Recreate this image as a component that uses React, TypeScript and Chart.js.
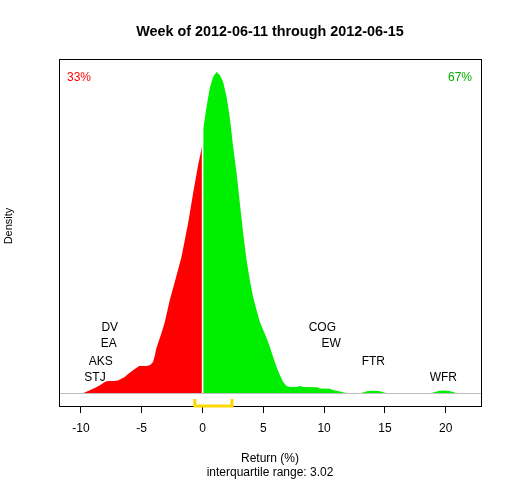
import React, { useEffect, useRef } from 'react';
import { Chart, registerables } from 'chart.js';

Chart.register(...registerables);

const FONT = '"Liberation Sans", Arial, sans-serif';

// density of weekly returns, left of zero (red)
const lossX = [-9.8, -9.4, -8.86, -8.4, -8.04, -7.8, -7.3, -6.95, -6.4, -6.12, -5.9, -5.57, -5.2, -4.6, -4.3, -4.07, -3.93, -3.79, -3.37, -3.1, -2.69, -2.28, -1.73, -1.18, -0.77, -0.36, -0.05];
const lossY = [0, 0.002, 0.005, 0.008, 0.011, 0.012, 0.012, 0.0125, 0.016, 0.019, 0.021, 0.024, 0.027, 0.027, 0.028, 0.031, 0.037, 0.045, 0.06, 0.071, 0.093, 0.111, 0.136, 0.17, 0.2, 0.228, 0.246];

// density right of zero (green)
const gainX = [0.06, 0.33, 0.6, 0.87, 1.15, 1.42, 1.7, 1.98, 2.25, 2.52, 2.8, 3.07, 3.34, 3.62, 3.89, 4.16, 4.44, 4.72, 4.99, 5.27, 5.54, 5.81, 6.09, 6.36, 6.63, 6.91, 7.2, 7.7, 8.0, 8.3, 9.4, 9.65, 10.5, 10.7, 11.3, 11.7, 11.9, 13.0, 13.2, 13.6, 14.0, 14.5, 15.0, 15.2, 18.8, 19.0, 19.4, 19.8, 20.3, 20.8, 21.0];
const gainY = [0.264, 0.286, 0.305, 0.316, 0.321, 0.318, 0.311, 0.296, 0.275, 0.246, 0.22, 0.19, 0.16, 0.133, 0.113, 0.096, 0.083, 0.071, 0.063, 0.055, 0.046, 0.036, 0.026, 0.018, 0.011, 0.007, 0.006, 0.006, 0.007, 0.006, 0.0057, 0.0045, 0.0043, 0.003, 0.0015, 0.0003, 0, 0, 0.0005, 0.002, 0.0023, 0.002, 0.0003, 0, 0, 0.0005, 0.002, 0.0024, 0.002, 0.0003, 0];

// labelled stocks
const stockNames = ['DV', 'EA', 'AKS', 'STJ', 'COG', 'EW', 'FTR', 'WFR'];
const stockX = [-7.63, -7.7, -8.37, -8.84, 9.85, 10.57, 14.05, 19.8];
const stockY = [0.065, 0.049, 0.031, 0.015, 0.065, 0.049, 0.031, 0.015];

const xTicks = [-10, -5, 0, 5, 10, 15, 20];
const quartiles = [-0.63, 2.42];
const iqrText = 'interquartile range: 3.02';
const title = 'Week of 2012-06-11 through 2012-06-15';
const lossShare = '33%';
const gainShare = '67%';

const RED = '#FF0000';
const GREEN = '#00EE00';

const toPoints = (xs: number[], ys: number[]) => xs.map((x, i) => ({ x, y: ys[i] }));

const decorations = {
  id: 'decorations',
  afterDatasetsDraw(chart: any) {
    const { ctx, chartArea, scales } = chart;
    const y = scales.y;
    ctx.save();
    // zero line
    ctx.strokeStyle = '#BEBEBE';
    ctx.lineWidth = 1;
    ctx.beginPath();
    ctx.moveTo(chartArea.left, Math.round(y.getPixelForValue(0)) + 0.5);
    ctx.lineTo(chartArea.right, Math.round(y.getPixelForValue(0)) + 0.5);
    ctx.stroke();
    ctx.restore();
  },
  afterDraw(chart: any) {
    const { ctx, chartArea, scales } = chart;
    const x = scales.x;
    const y = scales.y;
    ctx.save();

    // box
    ctx.strokeStyle = '#000';
    ctx.lineWidth = 1;
    ctx.strokeRect(chartArea.left + 0.5, chartArea.top + 0.5, chartArea.right - chartArea.left, chartArea.bottom - chartArea.top);

    // interquartile bracket
    const bY = y.getPixelForValue(y.min);
    const tY = y.getPixelForValue(-0.006);
    ctx.strokeStyle = '#FFD700';
    ctx.lineWidth = 3;
    ctx.beginPath();
    ctx.moveTo(x.getPixelForValue(quartiles[0]), tY);
    ctx.lineTo(x.getPixelForValue(quartiles[0]), bY);
    ctx.lineTo(x.getPixelForValue(quartiles[1]), bY);
    ctx.lineTo(x.getPixelForValue(quartiles[1]), tY);
    ctx.stroke();

    // stock labels
    ctx.fillStyle = '#000';
    ctx.font = `12px ${FONT}`;
    ctx.textAlign = 'center';
    ctx.textBaseline = 'middle';
    stockNames.forEach((name, i) => {
      ctx.fillText(name, x.getPixelForValue(stockX[i]), y.getPixelForValue(stockY[i]));
    });

    // shares
    ctx.fillStyle = RED;
    ctx.fillText(lossShare, chartArea.left + 20, chartArea.top + 19);
    ctx.fillStyle = '#00B000';
    ctx.fillText(gainShare, chartArea.right - 21, chartArea.top + 19);

    // titles
    const cx = (chartArea.left + chartArea.right) / 2;
    ctx.fillStyle = '#000';
    ctx.textBaseline = 'alphabetic';
    ctx.font = `bold 14.4px ${FONT}`;
    ctx.fillText(title, cx, 36);
    ctx.font = `12px ${FONT}`;
    ctx.fillText('Return (%)', cx, 462);
    ctx.fillText(iqrText, cx, 475.5);

    ctx.save();
    ctx.translate(9, 226);
    ctx.rotate(-Math.PI / 2);
    ctx.textBaseline = 'middle';
    ctx.font = `11px ${FONT}`;
    ctx.fillText('Density', 0, 0);
    ctx.restore();

    ctx.restore();
  },
};

const App: React.FC = () => {
  const canvasRef = useRef<HTMLCanvasElement>(null);

  useEffect(() => {
    if (!canvasRef.current) return;
    const chart = new Chart(canvasRef.current, {
      type: 'line',
      data: {
        datasets: [
          {
            data: toPoints(lossX, lossY),
            backgroundColor: RED,
            borderColor: 'rgba(0,0,0,0)',
            borderWidth: 0,
            pointRadius: 0,
            fill: 'origin',
          },
          {
            data: toPoints(gainX, gainY),
            backgroundColor: GREEN,
            borderColor: 'rgba(0,0,0,0)',
            borderWidth: 0,
            pointRadius: 0,
            fill: 'origin',
          },
        ],
      },
      options: {
        animation: false,
        responsive: true,
        maintainAspectRatio: false,
        layout: { padding: { left: 59, right: 31, top: 59, bottom: 0 } },
        plugins: { legend: { display: false }, tooltip: { enabled: false }, title: { display: false } },
        scales: {
          x: {
            type: 'linear',
            min: -11.8,
            max: 22.9,
            afterFit: (s: any) => { s.height = 74; },
            afterBuildTicks: (s: any) => { s.ticks = xTicks.map(v => ({ value: v })); },
            ticks: { color: '#000', padding: 8, font: { family: FONT, size: 12 }, maxRotation: 0 },
            grid: { drawOnChartArea: false, drawTicks: true, tickLength: 7, color: '#000' },
            border: { display: false },
          },
          y: {
            display: false,
            min: -0.013,
            max: 0.334,
          },
        },
      },
      plugins: [decorations],
    });
    return () => chart.destroy();
  }, []);

  return (
    <div style={{ position: 'absolute', left: 0, top: 0, width: 512, height: 480, background: '#fff' }}>
      <canvas ref={canvasRef} />
    </div>
  );
};

export default App;
